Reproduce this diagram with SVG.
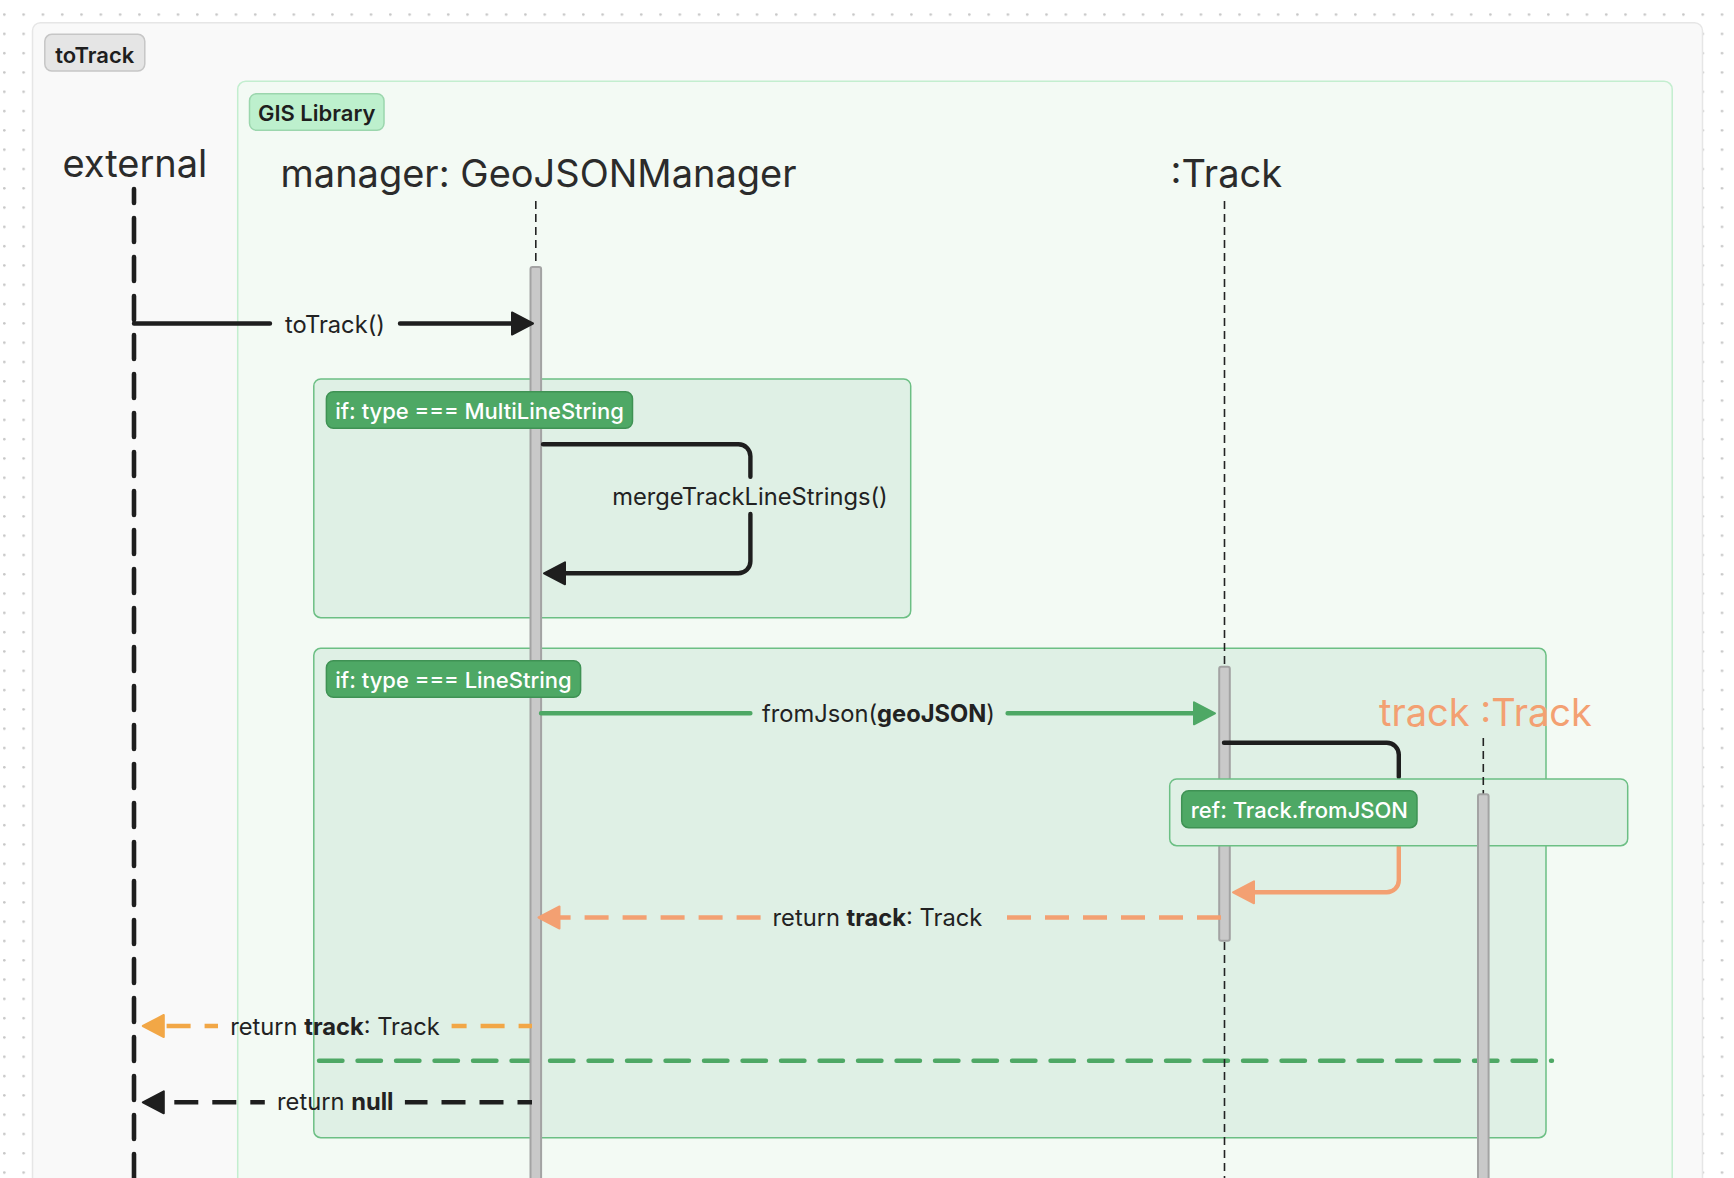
<svg xmlns="http://www.w3.org/2000/svg" width="1734" height="1178" viewBox="0 0 1734 1178">
<defs>
<pattern id="dots" x="3" y="13.3" width="19.3" height="19.3" patternUnits="userSpaceOnUse">
<circle cx="1.3" cy="1.3" r="1.3" fill="#c6c6c6"/>
</pattern>
<marker id="ah-black" markerUnits="userSpaceOnUse" markerWidth="30" markerHeight="30" refX="0" refY="0" orient="auto" overflow="visible">
<path d="M0,-11 L21,0 L0,11 Z" fill="#1e1e1e" stroke="#1e1e1e" stroke-width="2" stroke-linejoin="round"/>
</marker>
<marker id="ah-green" markerUnits="userSpaceOnUse" markerWidth="30" markerHeight="30" refX="0" refY="0" orient="auto" overflow="visible">
<path d="M0,-11 L21,0 L0,11 Z" fill="#4ea865" stroke="#4ea865" stroke-width="2" stroke-linejoin="round"/>
</marker>
<marker id="ah-salmon" markerUnits="userSpaceOnUse" markerWidth="30" markerHeight="30" refX="0" refY="0" orient="auto" overflow="visible">
<path d="M0,-11 L21,0 L0,11 Z" fill="#f3a072" stroke="#f3a072" stroke-width="2" stroke-linejoin="round"/>
</marker>
<marker id="ah-amber" markerUnits="userSpaceOnUse" markerWidth="30" markerHeight="30" refX="0" refY="0" orient="auto" overflow="visible">
<path d="M0,-11 L21,0 L0,11 Z" fill="#f2a746" stroke="#f2a746" stroke-width="2" stroke-linejoin="round"/>
</marker>
</defs>
<style>
text { font-family: Inter, "Liberation Sans", sans-serif; }
.hdr { font-size: 38px; fill: #2b2b2b; }
.lbl { font-size: 23.7px; fill: #222222; text-anchor: middle; }
.b { font-weight: 700; }
.badge-g { fill: #4ea865; stroke: #3f9254; stroke-width: 1.5; }
.badge-t { font-size: 22px; font-weight: 500; fill: #ffffff; text-anchor: middle; }
.frame { fill: #dff0e5; stroke: #6cbf84; stroke-width: 1.5; }
.bar { fill: #c9c9c9; stroke: #a3a3a3; stroke-width: 2; }
.thin { fill: none; stroke: #222222; stroke-width: 1.6; stroke-dasharray: 8 5; }
.solid { fill: none; stroke-width: 4.4; stroke-linecap: round; stroke-linejoin: round; }
.ret { fill: none; stroke-width: 4.4; stroke-dasharray: 24 14; }
</style>

<rect x="0" y="0" width="1734" height="1178" fill="#ffffff"/>
<rect x="0" y="0" width="1734" height="1178" fill="url(#dots)"/>

<g id="frame-toTrack">
<rect x="32.5" y="22.7" width="1670" height="1200" rx="8" fill="#f9f9f9" stroke="#e6e6e6" stroke-width="1.5"/>
<rect x="44.8" y="34.3" width="100" height="36.7" rx="7" fill="#e5e5e5" stroke="#c6c6c6" stroke-width="1.5"/>
<text x="94.8" y="62.8" font-size="22" font-weight="600" fill="#1e1e1e" text-anchor="middle">toTrack</text>
</g>

<g id="group-gis-library">
<rect x="237.7" y="81.3" width="1434.5" height="1150" rx="8" fill="#f3faf4" stroke="#c3eecf" stroke-width="1.5"/>
<rect x="249.5" y="93.7" width="134.5" height="36.6" rx="7" fill="#bdf0cd" stroke="#9bd6ad" stroke-width="1.5"/>
<text x="316.7" y="120.8" font-size="22" font-weight="600" fill="#1e1e1e" text-anchor="middle">GIS Library</text>
</g>

<g id="alt-multilinestring">
<rect class="frame" x="313.8" y="379" width="596.9" height="238.7" rx="7"/>
</g>

<g id="alt-linestring">
<rect class="frame" x="313.8" y="648.3" width="1232.2" height="489.4" rx="7"/>
<line x1="319" y1="1060.7" x2="1552" y2="1060.7" stroke="#4ea865" stroke-width="4.4" stroke-linecap="round" stroke-dasharray="23.5 15"/>
</g>

<g id="lifeline-external">
<text class="hdr" x="62.4" y="177">external</text>
<line x1="134" y1="189" x2="134" y2="1190" stroke="#1e1e1e" stroke-width="4.6" stroke-linecap="round" stroke-dasharray="24 15" stroke-dashoffset="10"/>
</g>

<g id="lifeline-manager">
<text class="hdr" x="280.5" y="187">manager: GeoJSONManager</text>
<line class="thin" x1="535.8" y1="201" x2="535.8" y2="267"/>
<rect class="bar" x="530.5" y="267" width="10.6" height="930" rx="2"/>
</g>

<g id="lifeline-track">
<text class="hdr" x="1170.5" y="187">:Track</text>
<line class="thin" x1="1224.5" y1="201" x2="1224.5" y2="1178"/>
<rect class="bar" x="1219.2" y="666.7" width="10.6" height="274" rx="2"/>
</g>

<g id="connectors">
<path class="solid" stroke="#1e1e1e" d="M134,323.5 H270 M400,323.5 H512" marker-end="url(#ah-black)"/>
<text class="lbl" x="335" y="332.5">toTrack()</text>

<path class="solid" stroke="#1e1e1e" d="M543,444.3 H738.4 A12,12 0 0 1 750.4,456.3 V476.7 M750.4,514 V561.3 A12,12 0 0 1 738.4,573.3 H565" marker-end="url(#ah-black)"/>
<text class="lbl" x="750" y="504.5">mergeTrackLineStrings()</text>

<path class="solid" stroke="#4ea865" d="M541,713.3 H750.4 M1007.6,713.3 H1194" marker-end="url(#ah-green)"/>
<text class="lbl" x="878.5" y="721.5">fromJson(<tspan class="b">geoJSON</tspan>)</text>

<path class="solid" stroke="#1e1e1e" d="M1224,742.7 H1386.8 A12,12 0 0 1 1398.8,754.7 V777"/>

<path class="solid" stroke="#f3a072" d="M1398.8,846.7 V880.3 A12,12 0 0 1 1386.8,892.3 H1254" marker-end="url(#ah-salmon)"/>

<path class="ret" stroke="#f3a072" d="M1221,917.5 H994 M760.6,917.5 H559.5" marker-end="url(#ah-salmon)"/>
<text class="lbl" x="877.4" y="925.5">return <tspan class="b">track</tspan>: Track</text>

<path class="ret" stroke="#f2a746" stroke-dashoffset="10.6" d="M532,1026 H451.6 M218,1026 H163.8" marker-end="url(#ah-amber)"/>
<text class="lbl" x="335" y="1034.5">return <tspan class="b">track</tspan>: Track</text>

<path class="ret" stroke="#1e1e1e" stroke-dashoffset="9.5" d="M532,1102.3 H404.9 M264.8,1102.3 H163.8" marker-end="url(#ah-black)"/>
<text class="lbl" x="335.3" y="1110">return <tspan class="b">null</tspan></text>
</g>

<g id="ref-track-fromjson">
<rect class="frame" x="1169.7" y="779" width="458" height="66.7" rx="7"/>
<rect class="badge-g" x="1181.7" y="790.7" width="235.3" height="37" rx="7"/>
<text class="badge-t" x="1299.4" y="817.5">ref: Track.fromJSON</text>
</g>

<g id="lifeline-track-instance">
<text x="1379" y="725.7" font-size="38" fill="#f3a072">track :Track</text>
<line class="thin" x1="1483.3" y1="738" x2="1483.3" y2="794"/>
<rect class="bar" x="1478" y="794.3" width="10.6" height="400" rx="2"/>
</g>

<g id="badge-multilinestring">
<rect class="badge-g" x="326.4" y="391.7" width="306.1" height="36.6" rx="7"/>
<text class="badge-t" x="479.5" y="418.5">if: type === MultiLineString</text>
</g>

<g id="badge-linestring">
<rect class="badge-g" x="326.4" y="660.7" width="254.2" height="36.6" rx="7"/>
<text class="badge-t" x="453.5" y="687.5">if: type === LineString</text>
</g>
</svg>
